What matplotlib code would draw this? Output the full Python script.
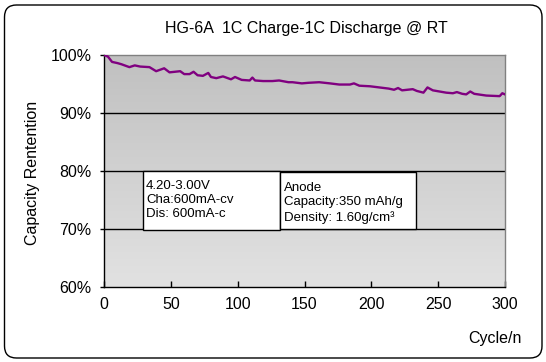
import numpy as np
import matplotlib.pyplot as plt
from matplotlib.colors import LinearSegmentedColormap
from matplotlib.patches import FancyBboxPatch, Rectangle
from matplotlib.ticker import FuncFormatter

plt.rcParams['font.family'] = ['Liberation Sans', 'DejaVu Sans']

# ---------- data ----------
cycles = [0, 3, 6, 10, 13, 19, 23, 27, 34, 39, 45, 49, 53, 57, 60, 64, 67, 70, 74, 78,
          80, 84, 89, 95, 98, 103, 109, 111, 113, 119, 126, 131, 138, 141, 148, 153, 161,
          169, 176, 184, 187, 191, 199, 206, 213, 217, 220, 223, 231, 234, 239, 242, 246,
          251, 256, 261, 264, 268, 271, 274, 277, 286, 296, 298, 300]
retention = [100.0, 99.7, 98.8, 98.6, 98.4, 97.9, 98.2, 98.0, 97.9, 97.2, 97.7, 97.0, 97.1,
             97.2, 96.7, 96.7, 97.1, 96.5, 96.4, 96.9, 96.2, 96.0, 96.3, 95.8, 96.2, 95.7,
             95.6, 96.1, 95.6, 95.5, 95.5, 95.6, 95.3, 95.3, 95.1, 95.2, 95.3, 95.1, 94.9,
             94.9, 95.1, 94.7, 94.6, 94.4, 94.2, 94.0, 94.3, 93.9, 94.1, 93.8, 93.5, 94.4,
             93.9, 93.7, 93.5, 93.4, 93.6, 93.3, 93.2, 93.7, 93.3, 93.0, 92.9, 93.4, 93.2]

x_ticks = [0, 50, 100, 150, 200, 250, 300]
y_ticks = [60, 70, 80, 90, 100]

title = "HG-6A  1C Charge-1C Discharge @ RT"
box1_lines = ["4.20-3.00V", "Cha:600mA-cv", "Dis: 600mA-c"]
box2_lines = ["Anode", "Capacity:350 mAh/g", "Density: 1.60g/cm\u00b3"]

# ---------- figure ----------
fig = plt.figure(figsize=(5.46, 3.62), dpi=100)

# rounded outer frame (behind the axes)
frame = FancyBboxPatch((0.045, 0.04), 5.375, 3.53,
                       boxstyle="round,pad=0,rounding_size=0.12",
                       transform=fig.dpi_scale_trans, fc="white", ec="black", lw=1.0,
                       zorder=-10)
fig.patches.append(frame)

ax = fig.add_axes([0.1905, 0.2072, 0.7344, 0.641])
ax.set_zorder(5)

# gradient plot background: darker at the top, lighter at the bottom
grad = np.linspace(0, 1, 256).reshape(-1, 1)
bg = LinearSegmentedColormap.from_list("bg", ["#c0c0c0", "#e2e2e2"])
ax.imshow(grad, cmap=bg, extent=(0, 300, 60, 100), origin="upper", aspect="auto",
          zorder=0, interpolation="bilinear")

ax.plot(cycles, retention, color="#800080", lw=1.7, zorder=3)

ax.set_xlim(0, 300)
ax.set_ylim(60, 100)
ax.set_xticks(x_ticks)
ax.set_yticks(y_ticks)
ax.yaxis.set_major_formatter(FuncFormatter(lambda v, p: f"{v:.0f}%"))

for v in y_ticks[1:-1]:
    ax.axhline(v, color="black", lw=1.0, zorder=1)

ax.tick_params(axis="x", direction="in", length=4, pad=7, labelsize=11.5, width=1.0)
ax.tick_params(axis="y", direction="out", length=3, pad=6, labelsize=11.5, width=1.0)

ax.spines["left"].set_color("black")
ax.spines["bottom"].set_color("black")
ax.spines["top"].set_color("#808080")
ax.spines["right"].set_color("#808080")
for s in ax.spines.values():
    s.set_linewidth(1.0)

# info boxes
ax.add_patch(Rectangle((0.097, 0.246), 0.342, 0.254, transform=ax.transAxes,
                       fc="white", ec="black", lw=1.0, zorder=4))
ax.add_patch(Rectangle((0.439, 0.25), 0.34, 0.246, transform=ax.transAxes,
                       fc="white", ec="black", lw=1.0, zorder=4))
ax.text(0.105, 0.462, "\n".join(box1_lines), transform=ax.transAxes, va="top",
        ha="left", fontsize=9.5, linespacing=1.25, zorder=5)
ax.text(0.449, 0.452, "\n".join(box2_lines), transform=ax.transAxes, va="top",
        ha="left", fontsize=9.5, linespacing=1.25, zorder=5)

fig.text(306 / 546, 1 - 29 / 362, title, ha="center", va="center", fontsize=11.5)
fig.text(33 / 546, 1 - 173 / 362, "Capacity Rentention", rotation=90,
         ha="center", va="center", fontsize=11.5)
fig.text(495 / 546, 1 - 338 / 362, "Cycle/n", ha="center", va="center", fontsize=11.5)

fig.savefig("out.png", dpi=100)
